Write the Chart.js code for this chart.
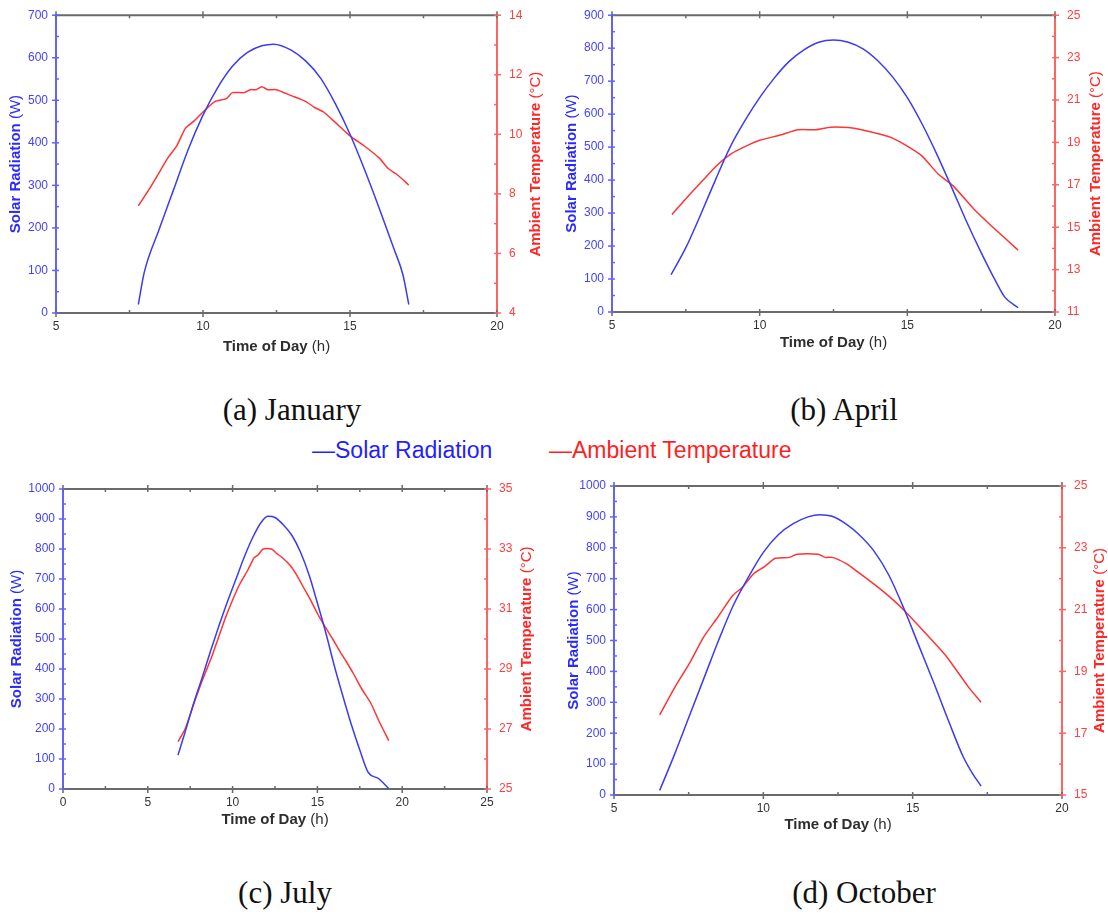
<!DOCTYPE html>
<html>
<head>
<meta charset="utf-8">
<script src="https://cdn.jsdelivr.net/npm/chart.js@4.4.0/dist/chart.umd.min.js"></script>
<style>
  body { margin: 0; width: 1108px; height: 916px; background: #fff; position: relative; overflow: hidden; }
  canvas { position: absolute; }
  .cap { position: absolute; font-family: "Liberation Serif", "Times New Roman", serif; font-size: 31px; color: #111;
         white-space: nowrap; transform: translate(-50%, -50%); }
  .leg { position: absolute; top: 450px; transform: translateY(-50%); font-family: "Liberation Sans", Arial, sans-serif;
         font-size: 23px; white-space: nowrap; }
</style>
</head>
<body>
<canvas id="jan" width="554" height="370" style="left:0;top:0"></canvas>
<canvas id="apr" width="554" height="370" style="left:554px;top:0"></canvas>
<canvas id="jul" width="554" height="370" style="left:0;top:470px"></canvas>
<canvas id="oct" width="554" height="370" style="left:554px;top:470px"></canvas>

<div class="cap" style="left:292px;top:410px">(a) January</div>
<div class="cap" style="left:844px;top:410px">(b) April</div>
<div class="cap" style="left:285px;top:893px">(c) July</div>
<div class="cap" style="left:864px;top:893px">(d) October</div>

<div class="leg" style="left:312px;color:#1f1fff">—Solar Radiation</div>
<div class="leg" style="left:549px;color:#ff1f1f">—Ambient Temperature</div>

<script>
// (a) January
var janSolarHours = [7.8, 8.0, 8.5, 9, 9.5, 10, 10.5, 11, 11.5, 12, 12.4, 13, 13.5, 14, 14.5, 15, 15.5, 16, 16.5, 16.8, 17.0];
var janSolar = [20, 95, 195, 290, 385, 465, 530, 580, 612, 628, 632, 618, 592, 552, 492, 420, 336, 245, 150, 90, 20];
var janTempHours = [7.8, 8.2, 8.5, 8.8, 9.1, 9.4, 9.7, 10.0, 10.4, 10.8, 11.0, 11.4, 11.6, 11.8, 12.0, 12.2, 12.5, 13.0, 13.5,
  13.8, 14.1, 14.5, 15.0, 15.5, 16.0, 16.3, 16.6, 17.0];
var janTemp = [7.6, 8.2, 8.7, 9.2, 9.6, 10.2, 10.45, 10.75, 11.1, 11.2, 11.4, 11.4, 11.5, 11.5, 11.6, 11.5, 11.5, 11.3, 11.1,
  10.9, 10.75, 10.4, 9.95, 9.6, 9.2, 8.85, 8.65, 8.3];

// (b) April
var aprSolarHours = [7.0, 7.5, 8, 8.5, 9, 9.5, 10, 10.5, 11, 11.5, 12, 12.5, 13, 13.5, 14, 14.5, 15, 15.5, 16, 16.5, 17, 17.5, 18, 18.3, 18.75];
var aprSolar = [113, 195, 295, 400, 500, 580, 650, 710, 760, 795, 818, 825, 818, 798, 762, 713, 650, 570, 478, 378, 275, 180, 92, 45, 13];
var aprTempHours = [7.03, 7.6, 8.07, 8.54, 9.02, 9.5, 10.0, 10.7, 11.3, 11.9, 12.4, 13.0, 13.45, 14.15, 14.5, 15.0, 15.5, 16.05,
  16.55, 17.25, 17.85, 18.75];
var aprTemp = [15.6, 16.5, 17.2, 17.9, 18.45, 18.8, 19.1, 19.35, 19.6, 19.6, 19.72, 19.7, 19.6, 19.36, 19.2, 18.82, 18.35, 17.5,
  16.95, 15.86, 15.06, 13.92];

// (c) July
var julSolarHours = [6.78, 7.2, 7.7, 8.2, 8.7, 9.2, 9.7, 10.2, 10.7, 11.2, 11.7, 12.1, 12.5, 13.0, 13.5, 14.0, 14.5, 15.0, 15.5,
  16.0, 16.5, 17.0, 17.5, 18.0, 18.6, 19.2];
var julSolar = [113, 190, 285, 370, 460, 545, 625, 700, 775, 840, 890, 909, 905, 880, 845, 790, 715, 620, 520, 410, 310, 215,
  130, 55, 35, 2];
var julTempHours = [6.78, 7.2, 7.72, 8.2, 8.77, 9.2, 9.6, 10.0, 10.44, 10.9, 11.27, 11.5, 11.8, 12.3, 12.6, 12.94, 13.4, 13.78,
  14.2, 14.61, 15.0, 15.45, 15.9, 16.28, 16.7, 17.12, 17.6, 18.16, 18.6, 19.21];
var julTemp = [26.58, 27.0, 27.85, 28.6, 29.41, 30.1, 30.74, 31.3, 31.85, 32.3, 32.71, 32.8, 33.0, 33.0, 32.85, 32.71, 32.45,
  32.13, 31.7, 31.29, 30.85, 30.41, 30.0, 29.63, 29.25, 28.85, 28.35, 27.85, 27.3, 26.61];

// (d) October
var octSolarHours = [6.53, 7.0, 7.5, 8.0, 8.5, 9.0, 9.5, 10.0, 10.5, 11.0, 11.5, 11.9, 12.3, 12.8, 13.2, 13.7, 14.2, 14.7, 15.2,
  15.7, 16.2, 16.7, 17.0, 17.29];
var octSolar = [15, 125, 250, 375, 500, 615, 705, 785, 842, 878, 900, 907, 902, 875, 843, 790, 712, 605, 485, 365, 240, 122, 70, 29];
var octTempHours = [6.53, 7.04, 7.52, 8.0, 8.48, 8.96, 9.32, 9.68, 10.04, 10.4, 10.88, 11.12, 11.84, 12.07, 12.31, 12.79, 13.15,
  13.75, 14.23, 14.71, 15.55, 16.15, 16.87, 17.29];
var octTemp = [17.59, 18.49, 19.25, 20.11, 20.76, 21.44, 21.74, 22.17, 22.39, 22.66, 22.69, 22.79, 22.79, 22.69, 22.69, 22.48,
  22.23, 21.79, 21.41, 20.98, 20.11, 19.46, 18.49, 18.0];

// axis ranges [min, max]
var janHourAxis = [5, 20], janSolarAxis = [0, 700], janTempAxis = [4, 14];
var aprHourAxis = [5, 20], aprSolarAxis = [0, 900], aprTempAxis = [11, 25];
var julHourAxis = [0, 25], julSolarAxis = [0, 1000], julTempAxis = [25, 35];
var octHourAxis = [5, 20], octSolarAxis = [0, 1000], octTempAxis = [15, 25];

var SOLAR_LINE = '#3b3bf2', TEMP_LINE = '#ff3434';
var SOLAR_AXIS = '#6262ff', TEMP_AXIS = '#ff6464', FRAME = '#6a6a6a';
var SANS = '"Liberation Sans", Arial, sans-serif';

function pairs(xs, ys) {
  return xs.map(function (x, i) { return { x: x, y: ys[i] }; });
}

function isMajor(scale, v) {
  var step = scale.options.majorStep;
  return Math.abs((v - scale.min) / step - Math.round((v - scale.min) / step)) < 1e-6;
}

// tick marks crossing the axes + top frame line
var tickMarks = {
  id: 'tickMarks',
  afterDraw: function (chart) {
    var ctx = chart.ctx, a = chart.chartArea, s = chart.scales;
    ctx.save();
    ctx.lineWidth = 2;
    ctx.strokeStyle = FRAME;
    ctx.beginPath(); ctx.moveTo(a.left, a.top); ctx.lineTo(a.right, a.top); ctx.stroke();
    ctx.lineWidth = 1.5;
    s.x.ticks.forEach(function (t) {
      var p = s.x.getPixelForValue(t.value);
      var out = isMajor(s.x, t.value) ? 4 : 0;
      ctx.beginPath();
      ctx.moveTo(p, a.bottom - 3); ctx.lineTo(p, a.bottom + out);
      ctx.moveTo(p, a.top - out); ctx.lineTo(p, a.top + 3);
      ctx.stroke();
    });
    ctx.strokeStyle = SOLAR_AXIS;
    s.yl.ticks.forEach(function (t) {
      var p = s.yl.getPixelForValue(t.value);
      var out = isMajor(s.yl, t.value) ? 4 : 0;
      ctx.beginPath(); ctx.moveTo(a.left - out, p); ctx.lineTo(a.left + 3, p); ctx.stroke();
    });
    ctx.strokeStyle = TEMP_AXIS;
    s.yr.ticks.forEach(function (t) {
      var p = s.yr.getPixelForValue(t.value);
      var out = isMajor(s.yr, t.value) ? 4 : 0;
      ctx.beginPath(); ctx.moveTo(a.right - 3, p); ctx.lineTo(a.right + out, p); ctx.stroke();
    });
    ctx.restore();
  }
};

// axis titles with a bold part and a normal part
function mixedTitle(ctx, bold, normal, cx, cy, angle, color) {
  ctx.save();
  ctx.translate(cx, cy);
  ctx.rotate(angle);
  var fb = 'bold 15px ' + SANS, fn = '15px ' + SANS;
  ctx.font = fb; var wb = ctx.measureText(bold + ' ').width;
  ctx.font = fn; var wn = ctx.measureText(normal).width;
  var x0 = -(wb + wn) / 2;
  ctx.textAlign = 'left'; ctx.textBaseline = 'middle'; ctx.fillStyle = color;
  ctx.font = fb; ctx.fillText(bold + ' ', x0, 0);
  ctx.font = fn; ctx.fillText(normal, x0 + wb, 0);
  ctx.restore();
}

var axisTitles = {
  id: 'axisTitles',
  afterDraw: function (chart) {
    var o = chart.options.plugins.axisTitles, a = chart.chartArea, ctx = chart.ctx;
    var cy = (a.top + a.bottom) / 2;
    mixedTitle(ctx, 'Time of Day', '(h)', (a.left + a.right) / 2, a.bottom + o.x, 0, '#2e2e2e');
    mixedTitle(ctx, 'Solar Radiation', '(W)', a.left - o.left, cy, -Math.PI / 2, '#2a2aff');
    mixedTitle(ctx, 'Ambient Temperature', '(\u00b0C)', a.right + o.right, cy, -Math.PI / 2, '#ff2626');
  }
};

function makeChart(id, solarHours, solar, tempHours, temp, hourAxis, solarAxis, tempAxis, box) {
  var tickFont = { family: SANS, size: 12 };
  new Chart(document.getElementById(id), {
    type: 'scatter',
    data: {
      datasets: [{
        label: 'Solar Radiation',
        data: pairs(solarHours, solar),
        yAxisID: 'yl',
        showLine: true,
        borderColor: SOLAR_LINE,
        borderWidth: 1.5,
        pointRadius: 0,
        cubicInterpolationMode: 'monotone'
      }, {
        label: 'Ambient Temperature',
        data: pairs(tempHours, temp),
        yAxisID: 'yr',
        showLine: true,
        borderColor: TEMP_LINE,
        borderWidth: 1.5,
        pointRadius: 0,
        tension: 0.2
      }]
    },
    options: {
      responsive: false,
      animation: false,
      layout: { padding: { top: box.top, left: 0, right: 0, bottom: 0 } },
      plugins: {
        legend: { display: false },
        tooltip: { enabled: false },
        axisTitles: box.titles
      },
      scales: {
        x: {
          type: 'linear', position: 'bottom', min: hourAxis[0], max: hourAxis[1], majorStep: 5,
          ticks: {
            stepSize: 2.5, maxTicksLimit: 100, autoSkip: false, maxRotation: 0, padding: 2, color: '#333', font: tickFont,
            callback: function (v) { return isMajor(this, v) ? v : ''; }
          },
          grid: { drawOnChartArea: false, tickLength: 4, tickColor: 'rgba(0,0,0,0)' },
          border: { color: FRAME, width: 2 },
          afterFit: function (s) { s.height = box.bottom; }
        },
        yl: {
          type: 'linear', position: 'left', min: solarAxis[0], max: solarAxis[1], majorStep: 100,
          ticks: {
            stepSize: 50, maxTicksLimit: 100, autoSkip: false, padding: 4, color: '#4343ff', font: tickFont,
            callback: function (v) { return isMajor(this, v) ? v : ''; }
          },
          grid: { drawOnChartArea: false, tickLength: 4, tickColor: 'rgba(0,0,0,0)' },
          border: { color: SOLAR_AXIS, width: 2 },
          afterFit: function (s) { s.width = box.left; }
        },
        yr: {
          type: 'linear', position: 'right', min: tempAxis[0], max: tempAxis[1], majorStep: 2,
          ticks: {
            stepSize: 1, maxTicksLimit: 100, autoSkip: false, padding: 8, color: '#ff4040', font: tickFont,
            callback: function (v) { return isMajor(this, v) ? v : ''; }
          },
          grid: { drawOnChartArea: false, tickLength: 4, tickColor: 'rgba(0,0,0,0)' },
          border: { color: TEMP_AXIS, width: 2 },
          afterFit: function (s) { s.width = box.right; }
        }
      }
    },
    plugins: [tickMarks, axisTitles]
  });
}

makeChart('jan', janSolarHours, janSolar, janTempHours, janTemp, janHourAxis, janSolarAxis, janTempAxis,
  { top: 11, left: 56, right: 57, bottom: 57, titles: { x: 34, left: 40, right: 39 } });
makeChart('apr', aprSolarHours, aprSolar, aprTempHours, aprTemp, aprHourAxis, aprSolarAxis, aprTempAxis,
  { top: 11, left: 58, right: 53, bottom: 58, titles: { x: 31, left: 40, right: 41 } });
makeChart('jul', julSolarHours, julSolar, julTempHours, julTemp, julHourAxis, julSolarAxis, julTempAxis,
  { top: 19, left: 63, right: 67, bottom: 51, titles: { x: 31, left: 46, right: 40 } });
makeChart('oct', octSolarHours, octSolar, octTempHours, octTemp, octHourAxis, octSolarAxis, octTempAxis,
  { top: 16, left: 60, right: 46, bottom: 45, titles: { x: 30, left: 40, right: 38 } });
</script>
</body>
</html>
